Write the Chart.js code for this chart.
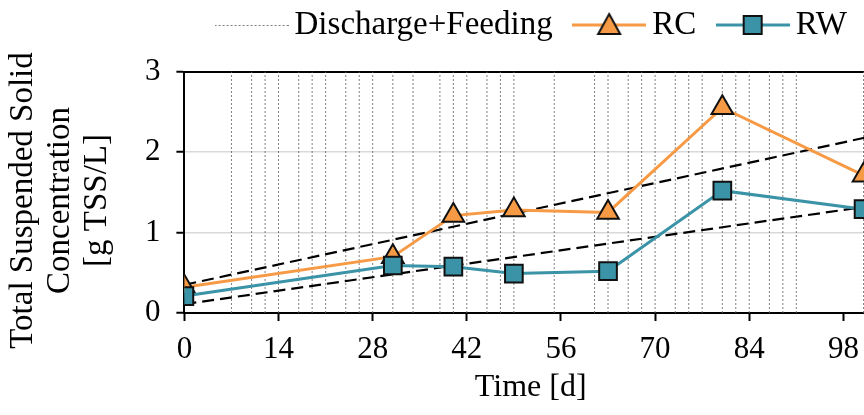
<!DOCTYPE html>
<html>
<head>
<meta charset="utf-8">
<title>Total Suspended Solid Concentration</title>
<script src="https://cdn.jsdelivr.net/npm/chart.js@4/dist/chart.umd.min.js"></script>
<style>
  html, body { margin: 0; padding: 0; background: #fff; overflow: hidden; }
  #wrap { position: relative; width: 877px; height: 415px; }
</style>
</head>
<body>
<div id="wrap"><canvas id="tss"></canvas></div>
<script>
// Sampling days and measured TSS values [g TSS/L]
const sampleDays = [0, 31, 40, 49, 63, 80, 101];
const rcValues   = [0.32, 0.70, 1.21, 1.28, 1.25, 2.55, 1.71];
const rwValues   = [0.21, 0.59, 0.575, 0.49, 0.52, 1.52, 1.29];

// Days on which the reactors were discharged and fed
const dischargeDays = [7, 10, 12, 14, 17, 19, 21, 24, 26, 28, 31, 34, 38, 40, 42, 45, 47, 49,
                       55, 61, 63, 66, 68, 70, 73, 75, 77, 80, 82, 84, 87, 89, 91, 101];

// Linear trend lines (start / end)
const trendDays = [0, 103];
const rcTrend   = [0.35, 2.21];
const rwTrend   = [0.11, 1.34];

// Axis ticks and labels
const xTickValues = [0, 14, 28, 42, 56, 70, 84, 98];
const yTickValues = [0, 1, 2, 3];
const seriesNames = ['RC', 'RW'];
const dischargeName = 'Discharge+Feeding';
const xTitle = 'Time [d]';
const yTitle = ['Total Suspended Solid', 'Concentration', '[g TSS/L]'];

const FONT = 'Liberation Serif, Times New Roman, serif';
const RC_COLOR = '#F79A45';
const RW_COLOR = '#3A93A6';
const EDGE = '#111111';
const DOT_COLOR = 'rgba(105,105,105,0.85)';
const X_MIN = 0, X_MAX = 103;

const toPoints = (xs, ys) => xs.map((x, i) => ({ x: x, y: ys[i] }));

// vertical event markers: one segment per day, separated by gaps
const yLo = yTickValues[0], yHi = yTickValues[yTickValues.length - 1];
const dischargeData = dischargeDays.flatMap(d => [{ x: d, y: yLo }, { x: d, y: yHi }, { x: d, y: null }]);

// rotated title sits a little below the axis centre
const NBSP2 = '\u00A0\u00A0';
const yTitleLines = yTitle.map(s => s + NBSP2);

// Legend glyphs: line sample with the series marker on it
function legendGlyph(kind) {
  const c = document.createElement('canvas');
  c.width = 74; c.height = 32;
  const g = c.getContext('2d');
  const mid = 16;
  if (kind === 'dots') {
    g.strokeStyle = DOT_COLOR; g.lineWidth = 1; g.setLineDash([2, 2]);
    g.beginPath(); g.moveTo(0, mid + 0.5); g.lineTo(74, mid + 0.5); g.stroke();
    return c;
  }
  const color = kind === 'tri' ? RC_COLOR : RW_COLOR;
  g.strokeStyle = color; g.lineWidth = 3;
  g.beginPath(); g.moveTo(0, mid); g.lineTo(74, mid); g.stroke();
  g.fillStyle = color; g.strokeStyle = EDGE; g.lineWidth = 2;
  g.beginPath();
  if (kind === 'tri') {
    g.moveTo(37, mid - 11); g.lineTo(48, mid + 9); g.lineTo(26, mid + 9); g.closePath();
  } else {
    g.rect(28, mid - 9, 18, 18);
  }
  g.fill(); g.stroke();
  return c;
}
const glyphs = { dots: legendGlyph('dots'), tri: legendGlyph('tri'), sq: legendGlyph('sq') };

new Chart(document.getElementById('tss'), {
  type: 'line',
  data: {
    datasets: [
      {
        label: dischargeName, data: dischargeData, order: 4,
        borderColor: DOT_COLOR, borderWidth: 1, borderDash: [2, 2],
        pointRadius: 0, spanGaps: false
      },
      {
        label: 'trend RC', data: toPoints(trendDays, rcTrend), order: 3,
        borderColor: '#000', borderWidth: 2.2, borderDash: [12, 6], pointRadius: 0
      },
      {
        label: 'trend RW', data: toPoints(trendDays, rwTrend), order: 2,
        borderColor: '#000', borderWidth: 2.2, borderDash: [12, 6], pointRadius: 0
      },
      {
        label: seriesNames[0], data: toPoints(sampleDays, rcValues), order: 1,
        borderColor: RC_COLOR, borderWidth: 3,
        pointStyle: 'triangle', pointRadius: 12.5,
        pointBackgroundColor: RC_COLOR, pointBorderColor: EDGE, pointBorderWidth: 2
      },
      {
        label: seriesNames[1], data: toPoints(sampleDays, rwValues), order: 0,
        borderColor: RW_COLOR, borderWidth: 3,
        pointStyle: 'rect', pointRadius: 12.5,
        pointBackgroundColor: RW_COLOR, pointBorderColor: EDGE, pointBorderWidth: 2
      }
    ]
  },
  options: {
    responsive: true,
    maintainAspectRatio: false,
    animation: false,
    events: [],
    layout: { autoPadding: false, padding: { top: -21.5, left: 0, right: 0, bottom: 5 } },
    plugins: {
      tooltip: { enabled: false },
      legend: {
        position: 'top',
        align: 'end',
        labels: {
          usePointStyle: true,
          pointStyleWidth: 53,
          padding: 30,
          color: '#000',
          font: { family: FONT, size: 33 },
          generateLabels() {
            const item = (text, glyph, idx) => ({
              text: text, pointStyle: glyph, datasetIndex: idx, hidden: false,
              fillStyle: 'rgba(0,0,0,0)', strokeStyle: 'rgba(0,0,0,0)', lineWidth: 0, fontColor: '#000'
            });
            return [
              item(dischargeName, glyphs.dots, 0),
              item(seriesNames[0], glyphs.tri, 3),
              item(seriesNames[1], glyphs.sq, 4)
            ];
          }
        }
      }
    },
    scales: {
      x: {
        type: 'linear',
        min: X_MIN,
        max: X_MAX,
        afterBuildTicks(scale) { scale.ticks = xTickValues.map(v => ({ value: v })); },
        ticks: {
          autoSkip: false, maxRotation: 0, padding: 10, color: '#000',
          font: { family: FONT, size: 31 }
        },
        grid: {
          drawOnChartArea: false, drawTicks: true, tickLength: 8,
          tickColor: '#000', tickWidth: 2
        },
        border: { color: '#000', width: 2 },
        title: {
          display: true, text: xTitle, color: '#000',
          font: { family: FONT, size: 32, lineHeight: 1.15 },
          padding: { top: -9, bottom: 4 }
        }
      },
      // top spine of the frame, also leaves room under the legend
      xTop: {
        type: 'linear',
        position: 'top',
        display: true,
        min: X_MIN,
        max: X_MAX,
        ticks: { display: false },
        grid: { drawOnChartArea: false, drawTicks: false },
        border: { color: '#000', width: 2 },
        title: { display: true, text: '', font: { size: 10, lineHeight: 1 }, padding: { top: 0, bottom: 10 } }
      },
      y: {
        type: 'linear',
        min: yLo,
        max: yHi,
        afterBuildTicks(scale) { scale.ticks = yTickValues.map(v => ({ value: v })); },
        ticks: { padding: 16, color: '#000', font: { family: FONT, size: 31 } },
        grid: {
          color: '#d9d9d9', lineWidth: 1.5, drawTicks: true, tickLength: 8,
          tickColor: '#000', tickWidth: 2
        },
        border: { color: '#000', width: 2 },
        title: {
          display: true, text: yTitleLines, color: '#000',
          font: { family: FONT, size: 33, lineHeight: 1.12 },
          padding: { top: 5, bottom: 13 }
        }
      }
    }
  }
});
</script>
</body>
</html>
